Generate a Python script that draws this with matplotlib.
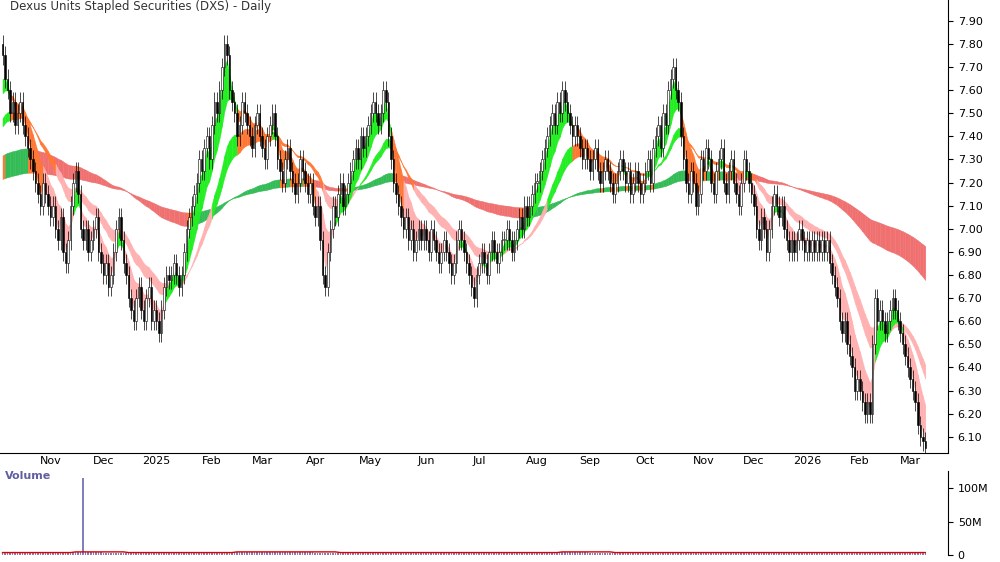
import numpy as np, pandas as pd, matplotlib
matplotlib.use("Agg")
import matplotlib.pyplot as plt
from matplotlib.patches import Rectangle

months = [
 ("2024-10",[7.75,7.65,7.6,7.5,7.55,7.45,7.5,7.55,7.45,7.4,7.35,7.3,7.25,7.2,7.15,7.1,7.2,7.15,7.1]),
 ("2024-11",[7.05,7.1,7.0,6.95,7.05,6.9,6.85,6.95,7.1,7.2,7.25,7.15,7.0,6.95,7.0,6.9,6.95,7.0,7.05,6.9,6.85]),
 ("2024-12",[6.8,6.85,6.75,6.8,6.9,7.0,7.05,6.95,6.85,6.8,6.7,6.65,6.6,6.7,6.75,6.65,6.6,6.7,6.75,6.6,6.65]),
 ("2025-01",[6.6,6.55,6.65,6.75,6.8,6.78,6.8,6.85,6.8,6.75,6.8,6.9,7.0,7.05,7.1,7.15,7.2,7.3,7.25,7.35,7.4,7.3]),
 ("2025-02",[7.45,7.55,7.5,7.6,7.7,7.8,7.75,7.6,7.55,7.5,7.4,7.45,7.55,7.5,7.45,7.4,7.35,7.45,7.5,7.4]),
 ("2025-03",[7.35,7.3,7.4,7.45,7.5,7.4,7.3,7.25,7.2,7.3,7.35,7.25,7.2,7.15,7.2,7.3,7.25,7.2,7.15,7.2,7.1]),
 ("2025-04",[7.05,7.1,6.95,6.8,6.75,6.9,7.0,7.1,7.05,7.15,7.2,7.1,7.15,7.2,7.25,7.3,7.35,7.3,7.4,7.35,7.4,7.45]),
 ("2025-05",[7.5,7.55,7.5,7.45,7.5,7.6,7.55,7.4,7.3,7.2,7.15,7.1,7.05,7.0,7.05,6.95,7.0,6.9,6.95,7.0,6.95,7.0]),
 ("2025-06",[6.95,6.9,7.0,6.95,6.9,6.85,6.9,6.95,6.9,6.85,6.8,6.85,6.95,7.0,6.95,6.9,6.85,6.8,6.75,6.7,6.8]),
 ("2025-07",[6.85,6.9,6.85,6.8,6.9,6.95,6.9,6.85,6.9,6.95,6.95,7.0,6.95,6.9,6.95,7.0,7.05,7.0,7.1,7.05,7.1,7.15,7.2]),
 ("2025-08",[7.2,7.25,7.3,7.35,7.4,7.45,7.5,7.45,7.55,7.5,7.6,7.55,7.5,7.45,7.4,7.45,7.4,7.35,7.3,7.35,7.3]),
 ("2025-09",[7.25,7.3,7.35,7.25,7.2,7.25,7.3,7.25,7.2,7.15,7.2,7.25,7.3,7.25,7.2,7.25,7.15,7.2,7.25,7.2,7.15,7.2]),
 ("2025-10",[7.25,7.3,7.2,7.35,7.4,7.45,7.35,7.5,7.45,7.6,7.65,7.7,7.6,7.55,7.4,7.3,7.2,7.15,7.25,7.2,7.1,7.15,7.3]),
 ("2025-11",[7.25,7.35,7.3,7.2,7.15,7.25,7.3,7.35,7.2,7.15,7.25,7.3,7.2,7.15,7.1,7.2,7.3,7.25,7.2,7.15]),
 ("2025-12",[7.1,7.0,6.95,7.05,7.0,6.9,7.0,7.1,7.15,7.1,7.05,7.1,7.0,6.95,6.9,6.95,6.9,6.95,7.0,6.95,6.9]),
 ("2026-01",[6.95,6.9,6.95,6.9,6.95,6.9,6.95,6.9,6.95,6.85,6.8,6.75,6.7,6.6,6.55,6.6,6.5,6.45,6.4,6.3,6.35]),
 ("2026-02",[6.3,6.25,6.2,6.25,6.2,6.5,6.7,6.6,6.65,6.6,6.55,6.6,6.65,6.7,6.65,6.6,6.55,6.5,6.45,6.4]),
 ("2026-03",[6.35,6.3,6.25,6.15,6.1,6.08,6.05]),
]
month_labels = ["Oct","Nov","Dec","2025","Feb","Mar","Apr","May","Jun","Jul","Aug","Sep","Oct","Nov","Dec","2026","Feb","Mar"]
month_vol = [4,5,4,4,5,5,4,4,4,4,5,4,4,4,4,4,4,4]  # millions, typical
spike_idx, spike_vol = 32, 115
short_seed = 7.55           # indicator state before first bar
mid_seed = [7.45, 7.42]
long_seed = [7.31, 7.21]

close = np.array([c for _, m in months for c in m])
n = len(close)
month_start = np.cumsum([0]+[len(m) for _, m in months])[:-1]
opn = np.r_[close[0]+0.05, close[:-1]]
high = np.maximum(opn, close) + 0.04
low = np.minimum(opn, close) - 0.04
vol = np.concatenate([[v]*len(m) for v,(_,m) in zip(month_vol, months)]).astype(float)
vol[spike_idx] = spike_vol
x = np.arange(n)

def ema(p, seed):
    a = 2/(p+1); out = np.empty(n); v = seed
    for i, c in enumerate(close):
        v = v + a*(c - v); out[i] = v
    return out

short = np.array([ema(3, short_seed), ema(10, short_seed)])
mid = np.array([ema(p, sd) for p, sd in zip((20, 28), mid_seed)])
long_ = np.array([ema(p, sd) for p, sd in zip((110, 200), long_seed)])

fig = plt.figure(figsize=(10,5.62), dpi=100)
ax = fig.add_axes([0.0, 0.194, 0.948, 0.806])
av = fig.add_axes([0.0, 0.012, 0.948, 0.15])

def band(arr, colfun):
    t, b = arr.max(0), arr.min(0)
    for i in range(n-1):
        c = colfun(i)
        ax.fill_between([i, i+1], [b[i], b[i+1]], [t[i], t[i+1]], color=c, lw=0.3, ec=c)

lm = long_.mean(0)
slope = np.r_[0, np.diff(lm)]
band(long_, lambda i: "#f07070" if slope[i] < -0.0005 else ("#33bb55" if slope[i] > 0.0007 else "#ff7733"))
sc = lambda i: "#22ee22" if short[0, i] >= short[1, i] else "#ff7733"
band(mid, lambda i: "#ffb0b0" if mid.mean(0)[i] < lm[i] else sc(i))
band(short, lambda i: ("#ffb0b0" if (short[0, i] < short[1, i] and short[1, i] < lm[i]) else sc(i)))

for i in range(n):
    ax.vlines(x[i], low[i], high[i], color="black", lw=0.5, zorder=3)
    up = close[i] >= opn[i]
    b = min(opn[i], close[i]); h = max(abs(close[i]-opn[i]), 0.005)
    ax.add_patch(Rectangle((x[i]-0.3, b), 0.6, h, fc="white" if up else "black", ec="black", lw=0.4, zorder=4))

ax.set_xlim(-1, n+8)
ax.set_ylim(6.03, 7.99)
ax.yaxis.tick_right()
ax.set_yticks(np.round(np.arange(6.1, 7.95, 0.1), 2))
ax.set_yticklabels([f"{v:.2f}" for v in np.arange(6.1, 7.95, 0.1)], fontsize=8)
ax.set_xticks(month_start[1:])
ax.set_xticklabels(month_labels[1:], fontsize=8)
ax.tick_params(axis="x", pad=2, length=0)
for sp in ["top","left"]:
    ax.spines[sp].set_visible(False)
ax.text(3, 7.96, "Dexus Units Stapled Securities (DXS) - Daily", fontsize=8.5, color="#333333", va="center")

av.bar(x, vol, width=0.6, color="#8080c0")
av.plot(x, pd.Series(vol).rolling(20, min_periods=1).median(), color="#dd0000", lw=1)
av.set_xlim(-1, n+8)
av.set_ylim(0, 125)
av.yaxis.tick_right()
av.set_yticks([0,50,100]); av.set_yticklabels(["0","50M","100M"], fontsize=8)
av.set_xticks([])
for sp in ["top","left","bottom"]:
    av.spines[sp].set_visible(False)
av.text(1, 118, "Volume", fontsize=8, color="#6060a0", fontweight="bold", va="center")
fig.savefig("out.png")
